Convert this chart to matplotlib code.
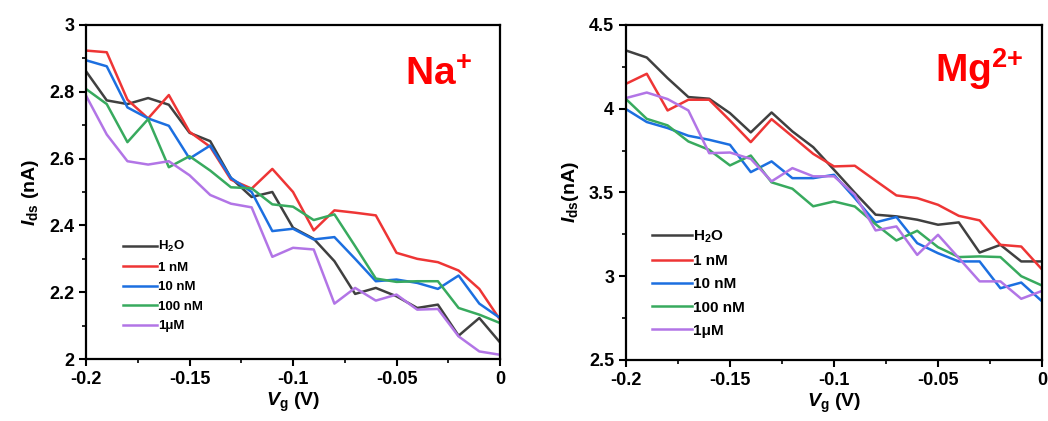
import matplotlib
matplotlib.use('Agg')
import matplotlib.pyplot as plt
from matplotlib.ticker import MultipleLocator

plt.rcParams['font.family'] = 'Liberation Sans'
plt.rcParams['font.weight'] = 'bold'
plt.rcParams['axes.labelweight'] = 'bold'
plt.rcParams['mathtext.fontset'] = 'custom'
plt.rcParams['mathtext.rm'] = 'Liberation Sans:bold'
plt.rcParams['mathtext.it'] = 'Liberation Sans:italic:bold'
plt.rcParams['mathtext.bf'] = 'Liberation Sans:bold'

vg = [-0.20, -0.19, -0.18, -0.17, -0.16, -0.15, -0.14, -0.13, -0.12, -0.11, -0.10,
      -0.09, -0.08, -0.07, -0.06, -0.05, -0.04, -0.03, -0.02, -0.01, 0.00]

labels = ['H$_2$O', '1 nM', '10 nM', '100 nM', '1\u03bcM']
colors = ['#404040', '#ee3535', '#1c6fe0', '#38aa5e', '#b275e6']

# Na+ panel
na_h2o = [2.861, 2.774, 2.763, 2.781, 2.761, 2.677, 2.652, 2.542, 2.485, 2.500, 2.393,
          2.360, 2.293, 2.195, 2.213, 2.188, 2.153, 2.163, 2.070, 2.123, 2.050]
na_1nm = [2.923, 2.918, 2.776, 2.720, 2.790, 2.680, 2.635, 2.537, 2.510, 2.569, 2.500,
          2.385, 2.445, 2.438, 2.430, 2.318, 2.300, 2.290, 2.265, 2.210, 2.118]
na_10nm = [2.894, 2.876, 2.753, 2.720, 2.698, 2.600, 2.639, 2.542, 2.500, 2.383, 2.390,
           2.358, 2.365, 2.300, 2.233, 2.238, 2.228, 2.210, 2.250, 2.166, 2.123]
na_100nm = [2.808, 2.763, 2.649, 2.718, 2.574, 2.607, 2.564, 2.514, 2.511, 2.463, 2.456,
            2.416, 2.433, 2.338, 2.241, 2.231, 2.233, 2.233, 2.153, 2.133, 2.108]
na_1um = [2.788, 2.672, 2.592, 2.582, 2.592, 2.550, 2.491, 2.465, 2.454, 2.306, 2.333,
          2.328, 2.166, 2.213, 2.175, 2.193, 2.148, 2.150, 2.068, 2.023, 2.013]

# Mg2+ panel
mg_h2o = [4.347, 4.305, 4.182, 4.069, 4.059, 3.973, 3.858, 3.977, 3.864, 3.770, 3.635,
          3.498, 3.367, 3.357, 3.337, 3.307, 3.321, 3.141, 3.187, 3.088, 3.088]
mg_1nm = [4.148, 4.208, 3.989, 4.053, 4.053, 3.929, 3.800, 3.937, 3.834, 3.730, 3.655,
          3.659, 3.570, 3.482, 3.466, 3.426, 3.360, 3.333, 3.187, 3.177, 3.040]
mg_10nm = [3.997, 3.920, 3.884, 3.838, 3.814, 3.784, 3.621, 3.685, 3.585, 3.585, 3.605,
           3.466, 3.321, 3.353, 3.197, 3.137, 3.088, 3.088, 2.928, 2.962, 2.850]
mg_100nm = [4.057, 3.939, 3.900, 3.804, 3.754, 3.661, 3.720, 3.560, 3.522, 3.417, 3.446,
            3.416, 3.310, 3.213, 3.271, 3.173, 3.114, 3.118, 3.114, 3.000, 2.944]
mg_1um = [4.063, 4.096, 4.057, 3.989, 3.734, 3.738, 3.700, 3.566, 3.645, 3.596, 3.596,
          3.486, 3.273, 3.297, 3.127, 3.247, 3.108, 2.969, 2.969, 2.865, 2.912]


def style_axes(ax, ymin, ymax, ymaj, ymin_step):
    ax.set_xlim(-0.2, 0)
    ax.set_ylim(ymin, ymax)
    ax.xaxis.set_major_locator(MultipleLocator(0.05))
    ax.xaxis.set_minor_locator(MultipleLocator(0.025))
    ax.yaxis.set_major_locator(MultipleLocator(ymaj))
    ax.yaxis.set_minor_locator(MultipleLocator(ymin_step))
    ax.xaxis.set_major_formatter(plt.FuncFormatter(lambda v, p: '0' if abs(v) < 1e-9 else ('%g' % v)))
    ax.yaxis.set_major_formatter(plt.FuncFormatter(lambda v, p: '%g' % v))
    ax.tick_params(which='major', direction='out', length=5, width=1.5, labelsize=13)
    ax.tick_params(which='minor', direction='out', length=3, width=1.2)
    for s in ax.spines.values():
        s.set_linewidth(1.6)
    ax.set_xlabel('$\\mathit{V}_{\\mathrm{g}}$ (V)', fontsize=14, labelpad=2)


fig = plt.figure(figsize=(10.48, 4.21), dpi=100)
ax1 = fig.add_axes([0.0821, 0.147, 0.395, 0.794])
ax2 = fig.add_axes([0.5973, 0.145, 0.397, 0.796])

for ys, lab, c in zip([na_h2o, na_1nm, na_10nm, na_100nm, na_1um], labels, colors):
    ax1.plot(vg, ys, color=c, lw=1.8, label=lab)
for ys, lab, c in zip([mg_h2o, mg_1nm, mg_10nm, mg_100nm, mg_1um], labels, colors):
    ax2.plot(vg, ys, color=c, lw=1.8, label=lab)

style_axes(ax1, 2, 3, 0.2, 0.1)
style_axes(ax2, 2.5, 4.5, 0.5, 0.25)

ax1.set_ylabel('$\\mathit{I}_{\\mathrm{ds}}$ (nA)', fontsize=14, labelpad=6)
ax2.set_ylabel('$\\mathit{I}_{\\mathrm{ds}}$(nA)', fontsize=14, labelpad=6)

ax1.legend(loc='lower left', bbox_to_anchor=(0.06, 0.045), frameon=False, fontsize=9.5,
           handlelength=2.6, handletextpad=0.1, labelspacing=0.55)
ax2.legend(loc='lower left', bbox_to_anchor=(0.03, 0.025), frameon=False, fontsize=11,
           handlelength=2.6, handletextpad=0.1, labelspacing=0.6)

ax1.text(0.932, 0.82, 'Na$^{+}$', transform=ax1.transAxes, color='#ff0000',
         fontsize=28, ha='right', va='baseline')
ax2.text(0.954, 0.83, 'Mg$^{2{+}}$', transform=ax2.transAxes, color='#ff0000',
         fontsize=28, ha='right', va='baseline')

fig.savefig('out.png', dpi=100)
